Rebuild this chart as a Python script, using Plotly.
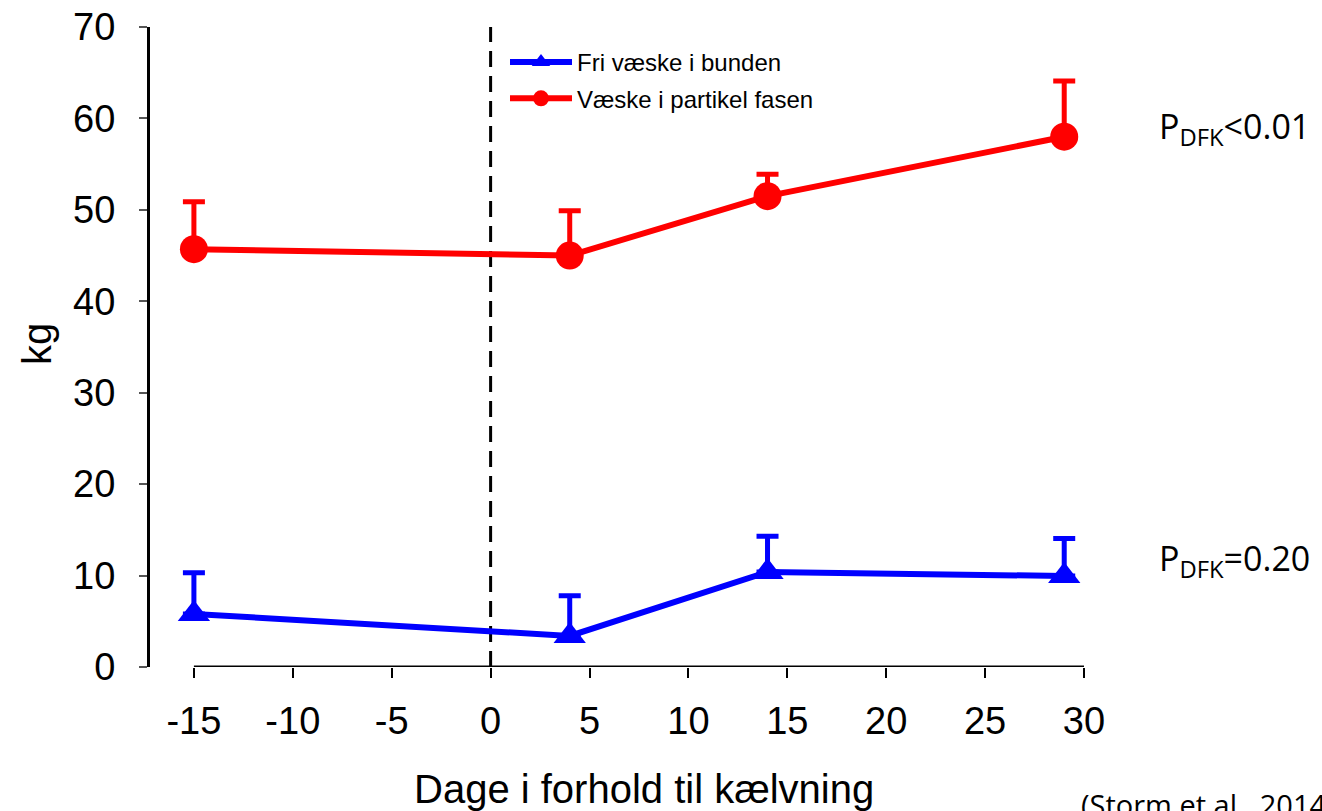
import plotly.graph_objects as go

days = [-15, 4, 14, 29]
red_vals = [45.7, 45.0, 51.5, 58.0]
red_err = [5.2, 4.9, 2.4, 6.1]
blue_vals = [5.8, 3.4, 10.4, 9.95]
blue_err = [4.5, 4.4, 3.9, 4.1]
x_ticks = [-15, -10, -5, 0, 5, 10, 15, 20, 25, 30]
y_ticks = [0, 10, 20, 30, 40, 50, 60, 70]

FONT = "Arial, Liberation Sans, sans-serif"

fig = go.Figure()
fig.add_trace(go.Scatter(
    x=days, y=blue_vals, mode="lines+markers", name="Fri væske i bunden",
    legendgroup="a",
    line=dict(color="#0000ff", width=6),
    marker=dict(symbol="triangle-up", size=28, color="#0000ff"),
    error_y=dict(type="data", symmetric=False, array=blue_err,
                 arrayminus=[0]*len(blue_err), color="#0000ff",
                 thickness=5, width=11),
))
fig.add_trace(go.Scatter(
    x=days, y=red_vals, mode="lines+markers", name="Væske i partikel fasen",
    legendgroup="b",
    line=dict(color="#ff0000", width=6),
    marker=dict(symbol="circle", size=28, color="#ff0000"),
    error_y=dict(type="data", symmetric=False, array=red_err,
                 arrayminus=[0]*len(red_err), color="#ff0000",
                 thickness=5, width=11),
))

# x-axis line from -15 to 30
fig.add_shape(type="line", xref="x", yref="y", x0=x_ticks[0], x1=x_ticks[-1],
              y0=0, y1=0, line=dict(color="black", width=3), layer="below")
# dashed vertical line at 0
fig.add_shape(type="line", xref="x", yref="y", x0=0, x1=0, y0=0, y1=70,
              line=dict(color="black", width=3, dash="16px,9px"), layer="below")

fig.update_layout(
    width=1322, height=811,
    margin=dict(l=150, r=238, t=27, b=144, autoexpand=False),
    plot_bgcolor="white", paper_bgcolor="white",
    showlegend=True,
    legend=dict(x=(505-150)/934, y=(667-40)/640, xanchor="left", yanchor="top",
                font=dict(family=FONT, size=24, color="black"),
                bgcolor="rgba(0,0,0,0)", itemwidth=62, tracegroupgap=2),
    xaxis=dict(range=[-17.22, 30], showgrid=False, zeroline=False, showline=False,
               automargin=False,
               tickmode="array", tickvals=x_ticks, ticktext=[str(v) for v in x_ticks],
               ticks="outside", ticklen=10, tickwidth=2, tickcolor="black",
               ticklabelstandoff=10,
               tickfont=dict(family=FONT, size=38, color="black")),
    yaxis=dict(range=[0, 70], showgrid=False, zeroline=False, showline=True,
               automargin=False,
               linecolor="black", linewidth=3,
               tickmode="array", tickvals=y_ticks, ticktext=[str(v) for v in y_ticks],
               ticks="outside", ticklen=8, tickwidth=2, tickcolor="#555555",
               ticklabelstandoff=16,
               tickfont=dict(family=FONT, size=38, color="black")),
    annotations=[
        dict(text="Dage i forhold til kælvning", xref="paper", yref="paper",
             x=(644-150)/934, y=-(789-667)/640, xanchor="center", yanchor="middle",
             showarrow=False, font=dict(family=FONT, size=40, color="black")),
        dict(text="kg", xref="paper", yref="paper", textangle=-90,
             x=-(150-37)/934, y=(667-344)/640, xanchor="center", yanchor="middle",
             showarrow=False, font=dict(family=FONT, size=40, color="black")),
        dict(text="P<sub>DFK</sub><0.01", xref="paper", yref="paper",
             x=(1157-150)/934, y=(667-128)/640, xanchor="left", yanchor="middle",
             showarrow=False, font=dict(family="Open Sans, sans-serif", size=34, color="black")),
        dict(text="P<sub>DFK</sub>=0.20", xref="paper", yref="paper",
             x=(1157-150)/934, y=(667-560)/640, xanchor="left", yanchor="middle",
             showarrow=False, font=dict(family="Open Sans, sans-serif", size=34, color="black")),
        dict(text="(Storm et al., 2014)", xref="paper", yref="paper",
             x=(1079-150)/934, y=-(804-667)/640, xanchor="left", yanchor="middle",
             showarrow=False, font=dict(family="Open Sans, sans-serif", size=29, color="black")),
    ],
)

fig.write_html("out.html")
